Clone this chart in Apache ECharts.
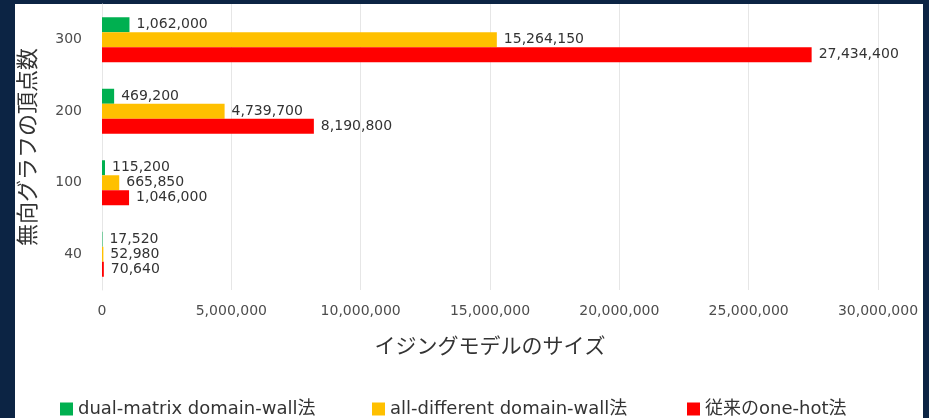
<!DOCTYPE html>
<html>
<head>
<meta charset="utf-8">
<script src="https://cdn.jsdelivr.net/npm/echarts@6/dist/echarts.min.js"></script>
<style>
  html, body { margin: 0; padding: 0; background: #0c2444; }
  #wrap { position: relative; width: 929px; height: 418px; background: #0c2444; overflow: hidden; }
  #panel { position: absolute; left: 15px; top: 4px; width: 908px; height: 414px; background: #ffffff; }
  #chart { position: absolute; left: 0; top: 0; width: 929px; height: 418px; }
</style>
</head>
<body>
<div id="wrap">
  <div id="panel"></div>
  <div id="chart"></div>
</div>
<script>
// Data
const categories = ['300', '200', '100', '40'];
const seriesNames = ['dual-matrix domain-wall法', 'all-different domain-wall法', '従来のone-hot法'];
const dualMatrix = [1062000, 469200, 115200, 17520];
const allDifferent = [15264150, 4739700, 665850, 52980];
const oneHot = [27434400, 8190800, 1046000, 70640];
const xTicks = [0, 5000000, 10000000, 15000000, 20000000, 25000000, 30000000];
const xAxisName = 'イジングモデルのサイズ';
const yAxisName = '無向グラフの頂点数';

const colors = ['#00B050', '#FFC000', '#FF0000'];
const latin = '"DejaVu Sans", "Noto Sans CJK JP", sans-serif';
const cjk = '"Noto Sans CJK JP", "DejaVu Sans", sans-serif';

function fmt(v) { return v.toLocaleString('en-US'); }

const chart = echarts.init(document.getElementById('chart'), null, { renderer: 'canvas' });

const valueSets = [dualMatrix, allDifferent, oneHot];
const series = valueSets.map((vals, i) => ({
  name: seriesNames[i],
  type: 'bar',
  data: vals,
  barWidth: 15,
  barGap: '0%',
  itemStyle: { color: colors[i] },
  label: {
    show: true,
    position: 'right',
    distance: 7,
    color: '#333333',
    fontFamily: latin,
    fontSize: 14,
    formatter: p => fmt(p.value)
  }
}));

const legendLefts = [55, 367, 682];
const legends = seriesNames.map((n, i) => ({
  data: [n],
  left: legendLefts[i],
  top: 395,
  itemWidth: 13,
  itemHeight: 13,
  icon: 'rect',
  selectedMode: false,
  textStyle: { color: '#333333', fontFamily: latin, fontSize: 18 }
}));

chart.setOption({
  animation: false,
  backgroundColor: 'transparent',
  legend: legends,
  grid: { left: 102, right: 51, top: 4, bottom: 128, containLabel: false },
  xAxis: {
    type: 'value',
    min: xTicks[0],
    max: xTicks[xTicks.length - 1],
    interval: xTicks[1] - xTicks[0],
    name: xAxisName,
    nameLocation: 'middle',
    nameGap: 45,
    nameTextStyle: { color: '#333333', fontFamily: cjk, fontSize: 21 },
    axisLine: { show: false },
    axisTick: { show: false },
    axisLabel: { color: '#4d4d4d', fontFamily: latin, fontSize: 14, margin: 14, formatter: v => fmt(v) },
    splitLine: { show: true, lineStyle: { color: '#e6e6e6', width: 1 } }
  },
  yAxis: {
    type: 'category',
    data: categories,
    inverse: true,
    name: yAxisName,
    nameLocation: 'middle',
    nameGap: 64,
    nameRotate: 90,
    nameTextStyle: { color: '#333333', fontFamily: cjk, fontSize: 22 },
    axisLine: { show: true, lineStyle: { color: '#e6e6e6' } },
    axisTick: { show: false },
    axisLabel: { color: '#4d4d4d', fontFamily: latin, fontSize: 14, margin: 20 }
  },
  series: series
});
</script>
</body>
</html>
